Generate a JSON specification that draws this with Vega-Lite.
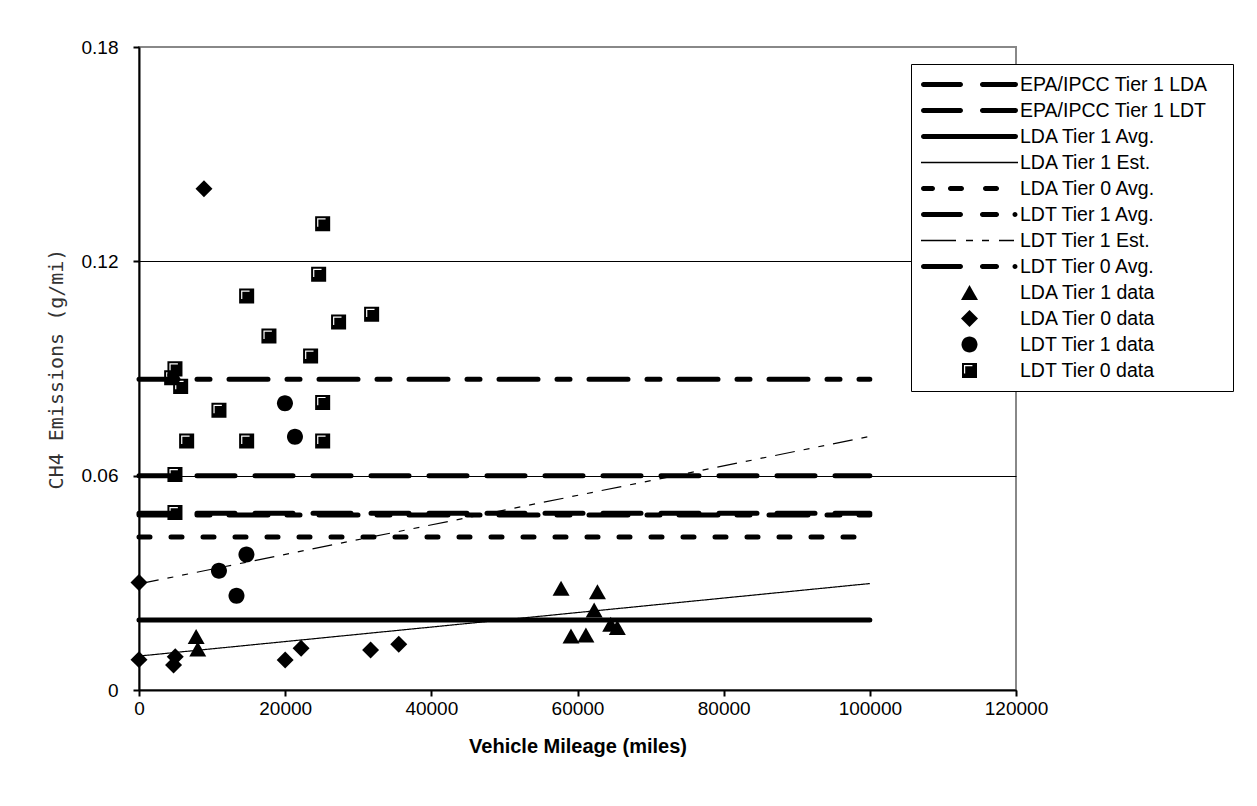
{
  "$schema": "https://vega.github.io/schema/vega-lite/v6.json",
  "width": 877,
  "height": 643,
  "autosize": {"type": "none"},
  "padding": {"left": 139, "top": 47, "right": 241, "bottom": 116},
  "background": "white",
  "config": {
    "view": {"stroke": "#888888", "strokeWidth": 2},
    "font": "Liberation Sans"
  },
  "datasets": {
    "thick": [
      {"series": "EPA/IPCC Tier 1 LDA", "mileage": 0, "ch4": 0.0495},
      {"series": "EPA/IPCC Tier 1 LDA", "mileage": 100000, "ch4": 0.0495},
      {"series": "EPA/IPCC Tier 1 LDT", "mileage": 0, "ch4": 0.06},
      {"series": "EPA/IPCC Tier 1 LDT", "mileage": 100000, "ch4": 0.06},
      {"series": "LDA Tier 1 Avg.", "mileage": 0, "ch4": 0.0196},
      {"series": "LDA Tier 1 Avg.", "mileage": 100000, "ch4": 0.0196},
      {"series": "LDA Tier 0 Avg.", "mileage": 0, "ch4": 0.0428},
      {"series": "LDA Tier 0 Avg.", "mileage": 100000, "ch4": 0.0428},
      {"series": "LDT Tier 1 Avg.", "mileage": 0, "ch4": 0.049},
      {"series": "LDT Tier 1 Avg.", "mileage": 100000, "ch4": 0.049},
      {"series": "LDT Tier 0 Avg.", "mileage": 0, "ch4": 0.087},
      {"series": "LDT Tier 0 Avg.", "mileage": 100000, "ch4": 0.087}
    ],
    "thin": [
      {"series": "LDA Tier 1 Est.", "mileage": 0, "ch4": 0.0095},
      {"series": "LDA Tier 1 Est.", "mileage": 100000, "ch4": 0.0298},
      {"series": "LDT Tier 1 Est.", "mileage": 0, "ch4": 0.0297},
      {"series": "LDT Tier 1 Est.", "mileage": 100000, "ch4": 0.071}
    ],
    "points": [
      {"series": "LDA Tier 1 data", "mileage": 57750, "ch4": 0.0285},
      {"series": "LDA Tier 1 data", "mileage": 62730, "ch4": 0.0275},
      {"series": "LDA Tier 1 data", "mileage": 62280, "ch4": 0.0224},
      {"series": "LDA Tier 1 data", "mileage": 59110, "ch4": 0.0151},
      {"series": "LDA Tier 1 data", "mileage": 61150, "ch4": 0.0154},
      {"series": "LDA Tier 1 data", "mileage": 64540, "ch4": 0.0184},
      {"series": "LDA Tier 1 data", "mileage": 65450, "ch4": 0.0175},
      {"series": "LDA Tier 1 data", "mileage": 7820, "ch4": 0.015},
      {"series": "LDA Tier 1 data", "mileage": 8040, "ch4": 0.0115},
      {"series": "LDA Tier 0 data", "mileage": 0, "ch4": 0.0301},
      {"series": "LDA Tier 0 data", "mileage": 0, "ch4": 0.0085},
      {"series": "LDA Tier 0 data", "mileage": 4960, "ch4": 0.0093},
      {"series": "LDA Tier 0 data", "mileage": 4730, "ch4": 0.007},
      {"series": "LDA Tier 0 data", "mileage": 20000, "ch4": 0.0084},
      {"series": "LDA Tier 0 data", "mileage": 22180, "ch4": 0.0117},
      {"series": "LDA Tier 0 data", "mileage": 31690, "ch4": 0.0112},
      {"series": "LDA Tier 0 data", "mileage": 35540, "ch4": 0.0128},
      {"series": "LDA Tier 0 data", "mileage": 8890, "ch4": 0.1403},
      {"series": "LDT Tier 1 data", "mileage": 10940, "ch4": 0.0334},
      {"series": "LDT Tier 1 data", "mileage": 14700, "ch4": 0.0379},
      {"series": "LDT Tier 1 data", "mileage": 13340, "ch4": 0.0264},
      {"series": "LDT Tier 1 data", "mileage": 19970, "ch4": 0.0803},
      {"series": "LDT Tier 1 data", "mileage": 21340, "ch4": 0.0709},
      {"series": "LDT Tier 0 data", "mileage": 25130, "ch4": 0.1305},
      {"series": "LDT Tier 0 data", "mileage": 24580, "ch4": 0.1164},
      {"series": "LDT Tier 0 data", "mileage": 14730, "ch4": 0.1103},
      {"series": "LDT Tier 0 data", "mileage": 31830, "ch4": 0.1052},
      {"series": "LDT Tier 0 data", "mileage": 27310, "ch4": 0.103},
      {"series": "LDT Tier 0 data", "mileage": 17780, "ch4": 0.0991},
      {"series": "LDT Tier 0 data", "mileage": 23480, "ch4": 0.0935},
      {"series": "LDT Tier 0 data", "mileage": 4920, "ch4": 0.0899},
      {"series": "LDT Tier 0 data", "mileage": 4470, "ch4": 0.0874},
      {"series": "LDT Tier 0 data", "mileage": 5700, "ch4": 0.085},
      {"series": "LDT Tier 0 data", "mileage": 10940, "ch4": 0.0783},
      {"series": "LDT Tier 0 data", "mileage": 25130, "ch4": 0.0805},
      {"series": "LDT Tier 0 data", "mileage": 6520, "ch4": 0.0697},
      {"series": "LDT Tier 0 data", "mileage": 14730, "ch4": 0.0697},
      {"series": "LDT Tier 0 data", "mileage": 25130, "ch4": 0.0697},
      {"series": "LDT Tier 0 data", "mileage": 4920, "ch4": 0.0603},
      {"series": "LDT Tier 0 data", "mileage": 4920, "ch4": 0.0497}
    ]
  },
  "encoding": {
    "x": {
      "field": "mileage",
      "type": "quantitative",
      "scale": {"domain": [0, 120000], "nice": false, "zero": true},
      "axis": {
        "values": [0, 20000, 40000, 60000, 80000, 100000, 120000],
        "format": "d",
        "title": "Vehicle Mileage (miles)",
        "titleFont": "Liberation Sans",
        "titleFontSize": 20,
        "titleFontWeight": "bold",
        "titleColor": "black",
        "titlePadding": 18,
        "labelFont": "Liberation Sans",
        "labelFontSize": 19,
        "labelColor": "black",
        "labelPadding": 3,
        "labelFlush": false,
        "labelOverlap": false,
        "tickSize": 6,
        "tickWidth": 2,
        "tickColor": "black",
        "domainColor": "black",
        "domainWidth": 2,
        "grid": false
      }
    },
    "y": {
      "field": "ch4",
      "type": "quantitative",
      "scale": {"domain": [0, 0.18], "nice": false, "zero": true},
      "axis": {
        "values": [0, 0.06, 0.12, 0.18],
        "format": ".2~f",
        "title": "CH4 Emissions (g/mi)",
        "titleFont": "DejaVu Sans Mono",
        "titleFontSize": 20,
        "titleFontWeight": "normal",
        "titleColor": "#333333",
        "titlePadding": 15,
        "labelFont": "Liberation Sans",
        "labelFontSize": 19,
        "labelColor": "black",
        "labelPadding": 15,
        "labelFlush": false,
        "labelOverlap": false,
        "tickSize": 6,
        "tickWidth": 2,
        "tickColor": "black",
        "domainColor": "black",
        "domainWidth": 2,
        "grid": true,
        "gridColor": {"condition": {"test": "datum.value === 0.18", "value": "#888888"}, "value": "black"},
        "gridWidth": 1
      }
    }
  },
  "layer": [
    {
      "data": {"name": "thick"},
      "mark": {"type": "line", "strokeWidth": 5, "strokeCap": "round", "color": "black"},
      "encoding": {
        "strokeDash": {
          "field": "series",
          "type": "nominal",
          "scale": {
            "domain": ["EPA/IPCC Tier 1 LDA", "EPA/IPCC Tier 1 LDT", "LDA Tier 1 Avg.", "LDA Tier 1 Est.", "LDA Tier 0 Avg.", "LDT Tier 1 Avg.", "LDT Tier 1 Est.", "LDT Tier 0 Avg."],
            "range": [[38, 20], [38, 20], [1, 0], [1, 0], [11, 21], [39, 19, 13, 19], [20, 9, 6, 9, 6, 9], [39, 19, 13, 19]]
          },
          "legend": null
        }
      }
    },
    {
      "data": {"name": "thin"},
      "mark": {"type": "line", "strokeWidth": 1.2, "strokeCap": "butt", "color": "black"},
      "encoding": {
        "strokeDash": {
          "field": "series",
          "type": "nominal",
          "scale": {
            "domain": ["EPA/IPCC Tier 1 LDA", "EPA/IPCC Tier 1 LDT", "LDA Tier 1 Avg.", "LDA Tier 1 Est.", "LDA Tier 0 Avg.", "LDT Tier 1 Avg.", "LDT Tier 1 Est.", "LDT Tier 0 Avg."],
            "range": [[38, 20], [38, 20], [1, 0], [1, 0], [11, 21], [39, 19, 13, 19], [20, 9, 6, 9, 6, 9], [39, 19, 13, 19]]
          },
          "legend": null
        }
      }
    },
    {
      "data": {"name": "points"},
      "mark": {"type": "point", "filled": true, "size": 9409, "opacity": 1, "strokeWidth": 0, "color": "black"},
      "encoding": {
        "shape": {
          "field": "series",
          "type": "nominal",
          "scale": {
            "domain": ["EPA/IPCC Tier 1 LDA", "EPA/IPCC Tier 1 LDT", "LDA Tier 1 Avg.", "LDA Tier 1 Est.", "LDA Tier 0 Avg.", "LDT Tier 1 Avg.", "LDT Tier 1 Est.", "LDT Tier 0 Avg.", "LDA Tier 1 data", "LDA Tier 0 data", "LDT Tier 1 data", "LDT Tier 0 data"],
            "range": [
              "M-0.948,-0.0515H-0.186A0.0515,0.0515,0,0,1,-0.186,0.0515H-0.948A0.0515,0.0515,0,0,1,-0.948,-0.0515ZM0.268,-0.0515H0.948A0.0515,0.0515,0,0,1,0.948,0.0515H0.268A0.0515,0.0515,0,0,1,0.268,-0.0515Z",
              "M-0.948,-0.0515H-0.186A0.0515,0.0515,0,0,1,-0.186,0.0515H-0.948A0.0515,0.0515,0,0,1,-0.948,-0.0515ZM0.268,-0.0515H0.948A0.0515,0.0515,0,0,1,0.948,0.0515H0.268A0.0515,0.0515,0,0,1,0.268,-0.0515Z",
              "M-0.948,-0.0515H0.948A0.0515,0.0515,0,0,1,0.948,0.0515H-0.948A0.0515,0.0515,0,0,1,-0.948,-0.0515Z",
              "M-1,-0.0134H1V0.0134H-1Z",
              "M-0.948,-0.0515H-0.763A0.0515,0.0515,0,0,1,-0.763,0.0515H-0.948A0.0515,0.0515,0,0,1,-0.948,-0.0515ZM-0.392,-0.0515H-0.165A0.0515,0.0515,0,0,1,-0.165,0.0515H-0.392A0.0515,0.0515,0,0,1,-0.392,-0.0515ZM0.33,-0.0515H0.557A0.0515,0.0515,0,0,1,0.557,0.0515H0.33A0.0515,0.0515,0,0,1,0.33,-0.0515Z",
              "M-0.948,-0.0515H-0.186A0.0515,0.0515,0,0,1,-0.186,0.0515H-0.948A0.0515,0.0515,0,0,1,-0.948,-0.0515ZM0.268,-0.0515H0.557A0.0515,0.0515,0,0,1,0.557,0.0515H0.268A0.0515,0.0515,0,0,1,0.268,-0.0515ZM0.938,-0.0515A0.0515,0.0515,0,1,1,0.938,0.0515A0.0515,0.0515,0,1,1,0.938,-0.0515Z",
              "M-1,-0.0134H-0.278V0.0134H-1ZM-0.072,-0.0134H0.072V0.0134H-0.072ZM0.258,-0.0134H0.402V0.0134H0.258ZM0.608,-0.0134H0.918V0.0134H0.608Z",
              "M-0.948,-0.0515H-0.186A0.0515,0.0515,0,0,1,-0.186,0.0515H-0.948A0.0515,0.0515,0,0,1,-0.948,-0.0515ZM0.268,-0.0515H0.557A0.0515,0.0515,0,0,1,0.557,0.0515H0.268A0.0515,0.0515,0,0,1,0.268,-0.0515ZM0.938,-0.0515A0.0515,0.0515,0,1,1,0.938,0.0515A0.0515,0.0515,0,1,1,0.938,-0.0515Z",
              "M0,-0.155L0.175,0.155L-0.175,0.155Z",
              "M0,-0.175L0.175,0L0,0.175L-0.175,0Z",
              "M0.165,0A0.165,0.165,0,1,1,-0.165,0A0.165,0.165,0,1,1,0.165,0Z",
              "M-0.155,-0.155H0.155V0.155H-0.155ZM-0.114,-0.114V0.06H-0.089V-0.089H0.06V-0.114Z"
            ]
          },
          "legend": {
            "title": "\u00a0",
            "titleOrient": "right",
            "titlePadding": 16,
            "titleFontSize": 19,
            "orient": "none",
            "legendX": 772,
            "legendY": 17,
            "padding": 10,
            "rowPadding": 5,
            "clipHeight": 21,
            "fillColor": "white",
            "strokeColor": "black",
            "symbolSize": 9409,
            "symbolFillColor": "black",
            "symbolStrokeColor": "black",
            "symbolStrokeWidth": 0,
            "symbolOpacity": 1,
            "labelFont": "Liberation Sans",
            "labelFontSize": 19.5,
            "labelColor": "black",
            "labelOffset": 2,
            "labelLimit": 500,
            "encode": {
              "legend": {"update": {"strokeWidth": {"value": 2}}},
              "symbols": {"update": {"fill": {"value": "black"}, "opacity": {"value": 1}, "strokeWidth": {"value": 0}}}
            }
          }
        }
      }
    }
  ]
}
